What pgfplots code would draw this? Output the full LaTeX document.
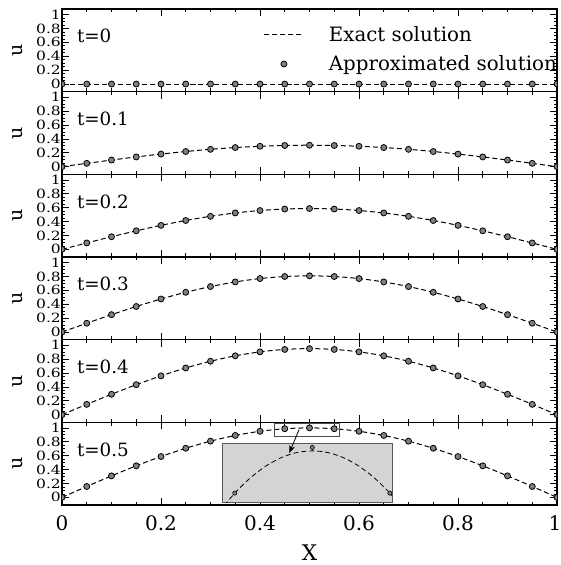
\documentclass[border=0pt]{standalone}
\usepackage{pgfplots}
\usepackage{pgfplotstable}
\pgfplotsset{compat=1.18}
\usepackage{fontspec}
\setmainfont{DejaVu Serif}
\usetikzlibrary{arrows.meta}

\pgfplotstableread{
x     a0  a1      a2      a3      a4      a5
0.00  0   0.0000  0.0000  0.0000  0.0000  0.0000
0.05  0   0.0483  0.0919  0.1265  0.1488  0.1564
0.10  0   0.0955  0.1816  0.2500  0.2939  0.3090
0.15  0   0.1403  0.2669  0.3673  0.4318  0.4540
0.20  0   0.1816  0.3455  0.4755  0.5590  0.5878
0.25  0   0.2185  0.4156  0.5721  0.6725  0.7071
0.30  0   0.2500  0.4755  0.6545  0.7694  0.8090
0.35  0   0.2753  0.5237  0.7208  0.8474  0.8910
0.40  0   0.2939  0.5590  0.7694  0.9045  0.9511
0.45  0   0.3052  0.5806  0.7990  0.9394  0.9877
0.50  0   0.3090  0.5878  0.8090  0.9511  1.0000
0.55  0   0.3052  0.5806  0.7990  0.9394  0.9877
0.60  0   0.2939  0.5590  0.7694  0.9045  0.9511
0.65  0   0.2753  0.5237  0.7208  0.8474  0.8910
0.70  0   0.2500  0.4755  0.6545  0.7694  0.8090
0.75  0   0.2185  0.4156  0.5721  0.6725  0.7071
0.80  0   0.1816  0.3455  0.4755  0.5590  0.5878
0.85  0   0.1403  0.2669  0.3673  0.4318  0.4540
0.90  0   0.0955  0.1816  0.2500  0.2939  0.3090
0.95  0   0.0483  0.0919  0.1265  0.1488  0.1564
1.00  0   0.0000  0.0000  0.0000  0.0000  0.0000
}\datatable

\pgfplotstableread{
x     e
0.44  0.98229
0.45  0.98769
0.46  0.99211
0.47  0.99556
0.48  0.99803
0.49  0.99951
0.50  1.00000
0.51  0.99951
0.52  0.99803
0.53  0.99556
0.54  0.99211
0.55  0.98769
0.56  0.98229
}\insetexact

\pgfplotstableread{
x     a
0.45  0.98769
0.50  1.00100
0.55  0.98769
}\insetapprox

\definecolor{markfill}{gray}{0.5}
\definecolor{insetfill}{gray}{0.83}

\pgfplotsset{
  panel/.style={
    scale only axis, width=495pt, height=82.667pt,
    xmin=0, xmax=1, ymin=-0.11, ymax=1.08,
    xtick={0,0.2,0.4,0.6,0.8,1}, minor x tick num=3,
    ytick={0,0.2,0.4,0.6,0.8,1}, minor y tick num=3,
    tick align=inside, major tick length=7pt, minor tick length=3.5pt,
    every tick/.style={black, line width=0.7pt},
    axis line style={line width=1.1pt},
    /pgf/number format/assume math mode=true,
    yticklabel style={font=\fontsize{15.5}{15.5}\selectfont, yscale=0.82, inner sep=1pt},
    xticklabel style={font=\fontsize{20}{20}\selectfont, yshift=-7pt, inner xsep=0pt},
    ylabel={u},
    ylabel style={font=\fontsize{19}{19}\selectfont, at={(axis description cs:-0.09,0.5)}, anchor=center},
    clip marker paths=true,
  },
  exact/.style={black, line width=1pt, dash pattern=on 5pt off 3pt, smooth},
  approx/.style={only marks, mark=*, mark size=3pt, mark options={fill=markfill, draw=black, line width=0.8pt, solid}},
  exactleg/.style={legend image code/.code={\draw[##1] (0pt,0pt) -- (39pt,0pt);}},
  approxleg/.style={legend image code/.code={\draw[##1] plot[only marks] coordinates {(19.5pt,0pt)};}},
}
\newcommand{\tlabel}[1]{\node[anchor=west, inner sep=0pt, font=\fontsize{18.3}{18.3}\selectfont] at (rel axis cs:0.03,0.673) {#1};}

\begin{document}
\begin{tikzpicture}
% panel t=0
\begin{axis}[panel, at={(0,413.333pt)}, anchor=south west, xticklabels={},
  legend style={draw=none, fill=none, at={(rel axis cs:1.0,1)}, anchor=north east, yshift=-14pt, xshift=3pt,
    font=\fontsize{19.8}{22}\selectfont, row sep=7pt, inner sep=0pt, nodes={inner sep=3pt},
    /tikz/every odd column/.append style={column sep=22pt}},
  legend cell align=left]
\addplot[exact, exactleg] table[x=x,y=a0] {\datatable};
\addlegendentry{Exact solution}
\addplot[approx, approxleg] table[x=x,y=a0] {\datatable};
\addlegendentry{Approximated solution}
\tlabel{t=0}
\end{axis}
% panel t=0.1
\begin{axis}[panel, at={(0,330.667pt)}, anchor=south west, xticklabels={}]
\addplot[exact] table[x=x,y=a1] {\datatable};
\addplot[approx] table[x=x,y=a1] {\datatable};
\tlabel{t=0.1}
\end{axis}
% panel t=0.2
\begin{axis}[panel, at={(0,248pt)}, anchor=south west, xticklabels={}]
\addplot[exact] table[x=x,y=a2] {\datatable};
\addplot[approx] table[x=x,y=a2] {\datatable};
\tlabel{t=0.2}
\end{axis}
% panel t=0.3
\begin{axis}[panel, at={(0,165.333pt)}, anchor=south west, xticklabels={}]
\addplot[exact] table[x=x,y=a3] {\datatable};
\addplot[approx] table[x=x,y=a3] {\datatable};
\tlabel{t=0.3}
\end{axis}
% panel t=0.4
\begin{axis}[panel, at={(0,82.667pt)}, anchor=south west, xticklabels={}]
\addplot[exact] table[x=x,y=a4] {\datatable};
\addplot[approx] table[x=x,y=a4] {\datatable};
\tlabel{t=0.4}
\end{axis}
% panel t=0.5
\begin{axis}[panel, at={(0,0pt)}, anchor=south west,
  xticklabels={0,0.2,0.4,0.6,0.8,\hspace*{-4pt}1},
  xlabel={X}, xlabel style={font=\fontsize{21.5}{21.5}\selectfont, at={(axis description cs:0.5,0)}, anchor=center, yshift=-48pt}]
\addplot[exact] table[x=x,y=a5] {\datatable};
\addplot[approx] table[x=x,y=a5] {\datatable};
\tlabel{t=0.5}
\draw[black!70, line width=0.7pt] (axis cs:0.428,0.88) rectangle (axis cs:0.560,1.072);
\coordinate (insetSW) at (axis cs:0.324,-0.072);
\coordinate (arrA) at (axis cs:0.479,0.975);
\coordinate (arrB) at (axis cs:0.459,0.638);
\end{axis}
% inset
\begin{axis}[at={(insetSW)}, anchor=south west, scale only axis, width=169.8pt, height=59.4pt,
  xmin=0.442, xmax=0.5515, ymin=0.985, ymax=1.0023,
  xtick=\empty, ytick=\empty,
  axis background/.style={fill=insetfill},
  axis line style={black!65, line width=0.8pt},
  clip marker paths=true]
\addplot[exact, line width=0.8pt] table[x=x,y=e] {\insetexact};
\addplot[only marks, mark=*, mark size=2.1pt, mark options={fill=markfill, draw=black, line width=0.6pt}] table[x=x,y=a] {\insetapprox};
\end{axis}
\draw[-{Stealth[length=8pt,width=6pt]}, line width=0.8pt] (arrA) -- (arrB);
\pgfresetboundingbox
\useasboundingbox (-62pt,-60pt) rectangle (499pt,505pt);
\end{tikzpicture}
\end{document}
